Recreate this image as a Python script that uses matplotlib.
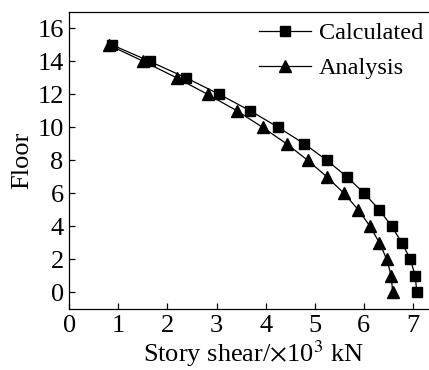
import numpy as np
import matplotlib
matplotlib.use('Agg')
import matplotlib.pyplot as plt
from matplotlib import rcParams

rcParams['font.family'] = 'Liberation Serif'
rcParams['font.size'] = 19
rcParams['axes.linewidth'] = 0.9
rcParams['mathtext.fontset'] = 'stix'

floors = np.arange(15, -1, -1)
calculated = np.array([0.87, 1.64, 2.38, 3.06, 3.69, 4.26, 4.79, 5.25,
                       5.66, 6.01, 6.32, 6.57, 6.78, 6.95, 7.05, 7.08])
analysis = np.array([0.80, 1.51, 2.19, 2.82, 3.42, 3.94, 4.43, 4.86,
                     5.25, 5.60, 5.89, 6.13, 6.32, 6.47, 6.56, 6.59])

fig = plt.figure(figsize=(4.29, 3.70), dpi=100)
ax = fig.add_axes([0.1615, 0.165, 0.858, 0.803])

ax.plot(calculated, floors, 'k-', marker='s', ms=7.5, lw=0.9, label='Calculated')
ax.plot(analysis, floors, 'k-', marker='^', ms=9, lw=0.9, label='Analysis')

ax.set_xlim(0, 7.5)
ax.set_ylim(-1, 17)
ax.set_xticks(np.arange(0, 8, 1))
ax.set_yticks(np.arange(0, 17, 2))
ax.tick_params(direction='in', length=4, width=0.9, pad=4)
ax.spines['right'].set_visible(False)

ax.set_xlabel(r'Story shear/$\times$10$^3$ kN', labelpad=1)
ax.set_ylabel('Floor', labelpad=3)

ax.legend(loc='upper left', bbox_to_anchor=(259 / 429, 1 - 22 / 370),
          bbox_transform=fig.transFigure, frameon=False, borderpad=0,
          borderaxespad=0, fontsize=17.5, handlelength=2.15, handletextpad=0.3,
          labelspacing=0.55)

fig.savefig('out.png', dpi=100)
plt.close()
